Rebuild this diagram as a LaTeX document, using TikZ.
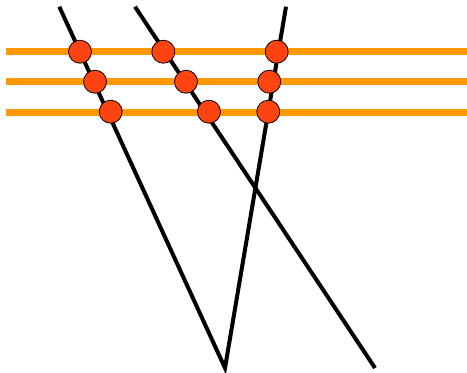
\documentclass[tikz,border=0pt]{standalone}
\definecolor{wireorange}{HTML}{FF9900}
\definecolor{hitred}{HTML}{FF4411}
\tikzset{
  wire/.style={wireorange,line width=7pt},
  track/.style={black,line width=4pt},
  hit/.style={circle,draw=black,line width=0.8pt,fill=hitred,minimum size=23pt,inner sep=0pt}
}
\begin{document}
\begin{tikzpicture}[x=1pt,y=-1pt]
  \useasboundingbox (0,0) rectangle (467,373);
  % wire planes
  \foreach \y in {51.7,81.7,112} {
    \draw[wire] (6,\y) -- (467,\y);
  }
  % track ends
  \coordinate (tA) at (59.3,6.7);
  \coordinate (tB) at (135,6.7);
  \coordinate (tC) at (286,6.7);
  \coordinate (apex) at (225,368);
  \coordinate (bB) at (375,368);
  \draw[track] (tA) -- (apex) -- (tC);
  \draw[track] (tB) -- (bB);
  % hits
  \node[hit] (a1) at (80,51.7) {};
  \node[hit] (a2) at (95,81.7) {};
  \node[hit] (a3) at (110.7,111.7) {};
  \node[hit] (b1) at (163.3,51.7) {};
  \node[hit] (b2) at (186,81.7) {};
  \node[hit] (b3) at (209,111.7) {};
  \node[hit] (c1) at (276.7,51.7) {};
  \node[hit] (c2) at (269.3,81.7) {};
  \node[hit] (c3) at (268.3,111.7) {};
\end{tikzpicture}
\end{document}
